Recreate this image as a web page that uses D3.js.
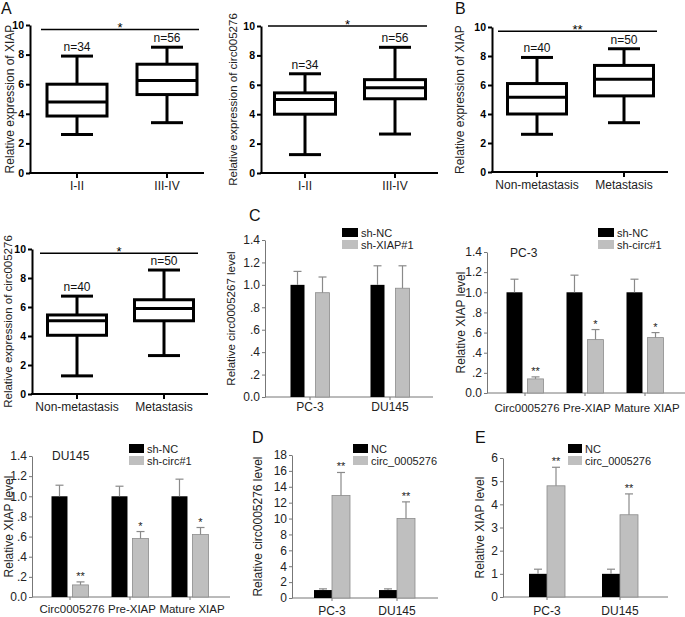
<!DOCTYPE html>
<html><head><meta charset="utf-8">
<script src="https://cdn.jsdelivr.net/npm/d3@7/dist/d3.min.js"></script>
<style>
body{margin:0;background:#fff;}
svg{display:block;font-family:"Liberation Sans",Arial,sans-serif;}
</style></head>
<body><svg id="c" width="685" height="617"></svg>
<script>
// ---------- DATA ----------
const stageCats = ["I-II", "III-IV"];
const metCats = ["Non-metastasis", "Metastasis"];
const stageN = ["n=34", "n=56"];
const metN = ["n=40", "n=50"];
const boxTicks = [0, 2, 4, 6, 8, 10];
// [min, q1, median, q3, max]
const xiapStage = [[2.6, 3.85, 4.8, 6.0, 7.9], [3.4, 5.3, 6.25, 7.35, 8.5]];
const circStage = [[1.25, 4.0, 5.0, 5.45, 6.75], [2.65, 5.05, 5.8, 6.35, 8.55]];
const xiapMet = [[2.6, 4.0, 5.15, 6.1, 7.9], [3.4, 5.25, 6.4, 7.35, 8.5]];
const circMet = [[1.25, 4.05, 5.05, 5.45, 6.75], [2.65, 5.05, 5.9, 6.5, 8.55]];

const cellLines = ["PC-3", "DU145"];
const rnaTargets = ["Circ0005276", "Pre-XIAP", "Mature XIAP"];
const seriesShXiap = ["sh-NC", "sh-XIAP#1"];
const seriesShCirc = ["sh-NC", "sh-circ#1"];
const seriesOE = ["NC", "circ_0005276"];

const c1Ctrl = [1.0, 1.0], c1CtrlErr = [0.12, 0.17];
const c1Trt = [0.93, 0.97], c1TrtErr = [0.14, 0.20];
const c2Ctrl = [1.0, 1.0, 1.0], c2CtrlErr = [0.13, 0.17, 0.13];
const c2Trt = [0.14, 0.53, 0.55], c2TrtErr = [0.02, 0.10, 0.05];
const c2Stars = ["**", "*", "*"];
const c3Ctrl = [1.0, 1.0, 1.0], c3CtrlErr = [0.11, 0.10, 0.17];
const c3Trt = [0.12, 0.58, 0.62], c3TrtErr = [0.03, 0.07, 0.07];
const c3Stars = ["**", "*", "*"];
const dCtrl = [1.0, 1.0], dCtrlErr = [0.15, 0.15];
const dTrt = [12.9, 10.0], dTrtErr = [2.9, 2.1];
const eCtrl = [1.0, 1.0], eCtrlErr = [0.2, 0.2];
const eTrt = [4.8, 3.55], eTrtErr = [0.8, 0.9];
const oeStars = ["**", "**"];

const fracTicks = [0, 0.2, 0.4, 0.6, 0.8, 1.0, 1.2, 1.4];
const fracTickLabels = ["0.0", ".2", ".4", ".6", ".8", "1.0", "1.2", "1.4"];
const dTicks = [0, 2, 4, 6, 8, 10, 12, 14, 16, 18];
const eTicks = [0, 1, 2, 3, 4, 5, 6];

// ---------- DRAW ----------
const svg = d3.select("#c");
const FONT = '"Liberation Sans",Arial,sans-serif';

function panelLetter(t, x, y) {
  svg.append("text").attr("x", x).attr("y", y).attr("font-size", 16).attr("fill", "#111").text(t);
}

function boxPanel(o) {
  const g = svg.append("g");
  const y = d3.scaleLinear().domain([0, 10]).range([o.y0, o.yTop]);
  const x = d3.scalePoint().domain(o.cats).range(o.centers);
  const ya = g.append("g").attr("transform", `translate(${o.ax},0)`)
    .call(d3.axisLeft(y).tickValues(boxTicks).tickSize(4).tickSizeOuter(0).tickPadding(2));
  ya.selectAll("path,line").attr("stroke", "#000").attr("stroke-width", 2);
  ya.selectAll("text").attr("font-size", 10.5).attr("font-weight", "bold").attr("font-family", FONT).attr("fill", "#000");
  g.append("line").attr("x1", o.ax - 1).attr("x2", o.xEnd).attr("y1", o.y0).attr("y2", o.y0)
    .attr("stroke", "#000").attr("stroke-width", 2);
  o.cats.forEach((c, i) => {
    const cx = x(c), d = o.data[i];
    g.append("line").attr("x1", cx).attr("x2", cx).attr("y1", o.y0).attr("y2", o.y0 + 5).attr("stroke", "#000").attr("stroke-width", 2);
    g.append("text").attr("x", cx).attr("y", o.xlabY).attr("text-anchor", "middle").attr("font-size", o.xFont).attr("fill", "#222").text(c);
    const s = {stroke: "#000", "stroke-width": 3, fill: "none"};
    const L = (x1, y1, x2, y2) => { const l = g.append("line").attr("x1", x1).attr("y1", y1).attr("x2", x2).attr("y2", y2); for (const k in s) l.attr(k, s[k]); };
    L(cx, y(d[0]), cx, y(d[1]));
    L(cx, y(d[3]), cx, y(d[4]));
    L(cx - o.capW / 2, y(d[0]), cx + o.capW / 2, y(d[0]));
    L(cx - o.capW / 2, y(d[4]), cx + o.capW / 2, y(d[4]));
    g.append("rect").attr("x", cx - o.boxW / 2).attr("y", y(d[3])).attr("width", o.boxW).attr("height", y(d[1]) - y(d[3]))
      .attr("fill", "none").attr("stroke", "#000").attr("stroke-width", 3);
    L(cx - o.boxW / 2, y(d[2]), cx + o.boxW / 2, y(d[2]));
    g.append("text").attr("x", cx).attr("y", y(d[4]) - 5).attr("text-anchor", "middle").attr("font-size", 12).attr("fill", "#111").text(o.n[i]);
  });
  g.append("line").attr("x1", o.sigX[0]).attr("x2", o.sigX[1]).attr("y1", y(o.sigV)).attr("y2", y(o.sigV)).attr("stroke", "#000").attr("stroke-width", 1.5);
  g.append("text").attr("x", (o.sigX[0] + o.sigX[1]) / 2).attr("y", y(o.sigV) + 3).attr("text-anchor", "middle").attr("font-size", 13).attr("fill", "#000").text(o.sig);
  g.append("text").attr("transform", `translate(${o.ylabX},${(o.y0 + o.yTop) / 2}) rotate(-90)`).attr("dy", "0.35em")
    .attr("text-anchor", "middle").attr("font-size", o.ylabFont).attr("fill", "#222").text(o.ylab);
}

function barPanel(o) {
  const g = svg.append("g");
  const y = d3.scaleLinear().domain([0, o.ymax]).range([o.y0, o.yTop]);
  const x = d3.scalePoint().domain(o.groups).range(o.centers);
  const inner = d3.scaleBand().domain(o.series).range([-o.half, o.half]).paddingInner(o.pad);
  const ya = g.append("g").attr("transform", `translate(${o.ax},0)`)
    .call(d3.axisLeft(y).tickValues(o.ticks).tickFormat((v, i) => o.tickLabels[i]).tickSize(3).tickSizeOuter(0).tickPadding(2));
  ya.selectAll("path,line").attr("stroke", "#777").attr("stroke-width", 1);
  ya.selectAll("text").attr("font-size", 12).attr("font-family", FONT).attr("fill", "#222");
  g.append("line").attr("x1", o.ax).attr("x2", o.xEnd).attr("y1", o.y0).attr("y2", o.y0).attr("stroke", "#777").attr("stroke-width", 1);
  const vals = [o.ctrl, o.trt], errs = [o.ctrlErr, o.trtErr], fills = ["#000", "#bfbfbf"], strokes = ["#000", "#8c8c8c"];
  o.groups.forEach((gr, i) => {
    const cx = x(gr);
    g.append("line").attr("x1", cx).attr("x2", cx).attr("y1", o.y0).attr("y2", o.y0 + 3).attr("stroke", "#777");
    g.append("text").attr("x", cx + (o.labShift || 0)).attr("y", o.xlabY).attr("text-anchor", "middle").attr("font-size", o.xFont).attr("fill", "#222").text(gr);
    o.series.forEach((s, k) => {
      const v = vals[k][i], e = errs[k][i];
      const bx = cx + inner(s), bw = inner.bandwidth();
      g.append("rect").attr("x", bx).attr("y", y(v)).attr("width", bw).attr("height", o.y0 - y(v))
        .attr("fill", fills[k]).attr("stroke", strokes[k]).attr("stroke-width", k ? 0.8 : 0);
      const mx = bx + bw / 2;
      g.append("line").attr("x1", mx).attr("x2", mx).attr("y1", y(v)).attr("y2", y(v + e)).attr("stroke", "#8a8a8a").attr("stroke-width", 1.2);
      g.append("line").attr("x1", mx - 4).attr("x2", mx + 4).attr("y1", y(v + e)).attr("y2", y(v + e)).attr("stroke", "#8a8a8a").attr("stroke-width", 1.2);
      if (k === 1 && o.stars) {
        g.append("text").attr("x", mx).attr("y", y(v + e) - 2).attr("text-anchor", "middle").attr("font-size", 11).attr("fill", "#222").text(o.stars[i]);
      }
    });
  });
  o.series.forEach((s, k) => {
    g.append("rect").attr("x", o.legX).attr("y", o.legY + k * 12).attr("width", o.legW).attr("height", 9).attr("fill", fills[k]);
    g.append("text").attr("x", o.legX + o.legW + 3).attr("y", o.legY + k * 12 + 8.5).attr("font-size", 11).attr("fill", "#222").text(s);
  });
  if (o.title) g.append("text").attr("x", o.title[1]).attr("y", o.title[2]).attr("font-size", 12).attr("fill", "#222").text(o.title[0]);
  g.append("text").attr("transform", `translate(${o.ylabX},${(o.y0 + o.yTop) / 2}) rotate(-90)`).attr("dy", "0.35em")
    .attr("text-anchor", "middle").attr("font-size", o.ylabFont).attr("fill", "#222").text(o.ylab);
}

// Box plots
boxPanel({ax: 30, y0: 173, yTop: 25, xEnd: 204, centers: [77, 167], cats: stageCats, data: xiapStage, n: stageN,
  boxW: 60, capW: 32, sigX: [41, 199], sigV: 9.7, sig: "*", ylab: "Relative expression of XIAP", ylabX: 10, ylabFont: 12, xlabY: 190, xFont: 12});
boxPanel({ax: 261, y0: 173, yTop: 26, xEnd: 438, centers: [305, 395], cats: stageCats, data: circStage, n: stageN,
  boxW: 61, capW: 32, sigX: [268, 427], sigV: 10, sig: "*", ylab: "Relative expression of circ005276", ylabX: 233, ylabFont: 11.5, xlabY: 190, xFont: 12});
boxPanel({ax: 492, y0: 172, yTop: 27, xEnd: 668, centers: [537, 624], cats: metCats, data: xiapMet, n: metN,
  boxW: 59, capW: 32, sigX: [498, 657], sigV: 9.7, sig: "**", ylab: "Relative expression of XIAP", ylabX: 460, ylabFont: 12, xlabY: 189, xFont: 12});
boxPanel({ax: 32, y0: 394, yTop: 249, xEnd: 208, centers: [77, 164], cats: metCats, data: circMet, n: metN,
  boxW: 59, capW: 32, sigX: [40, 198], sigV: 9.7, sig: "*", ylab: "Relative expression of circ005276", ylabX: 8, ylabFont: 11.5, xlabY: 411, xFont: 12});

// Bar charts
barPanel({ax: 265, y0: 397, yTop: 240, ymax: 1.4, ticks: fracTicks, tickLabels: fracTickLabels, xEnd: 433,
  groups: cellLines, centers: [310, 390], series: seriesShXiap, half: 19.5, pad: 0.44,
  ctrl: c1Ctrl, ctrlErr: c1CtrlErr, trt: c1Trt, trtErr: c1TrtErr,
  legX: 342, legY: 228, legW: 16, ylab: "Relative circ0005267 level", ylabX: 231, ylabFont: 11.5, xlabY: 411, xFont: 12});
barPanel({ax: 487, y0: 393, yTop: 252, ymax: 1.4, ticks: fracTicks, tickLabels: fracTickLabels, xEnd: 685,
  groups: rnaTargets, centers: [525, 645], series: seriesShCirc, half: 18.5, pad: 0.24,
  ctrl: c2Ctrl, ctrlErr: c2CtrlErr, trt: c2Trt, trtErr: c2TrtErr, stars: c2Stars,
  legX: 598, legY: 228, legW: 16, title: ["PC-3", 510, 257], ylab: "Relative XIAP level", ylabX: 461, ylabFont: 12, xlabY: 412, xFont: 11.5, labShift: 2});
barPanel({ax: 32, y0: 597, yTop: 456, ymax: 1.4, ticks: fracTicks, tickLabels: fracTickLabels, xEnd: 230,
  groups: rnaTargets, centers: [70, 190], series: seriesShCirc, half: 18.5, pad: 0.24,
  ctrl: c3Ctrl, ctrlErr: c3CtrlErr, trt: c3Trt, trtErr: c3TrtErr, stars: c3Stars,
  legX: 129, legY: 444, legW: 15, title: ["DU145", 52, 460], ylab: "Relative XIAP level", ylabX: 9, ylabFont: 12, xlabY: 613, xFont: 11.5, labShift: 2});
barPanel({ax: 292, y0: 598, yTop: 455, ymax: 18, ticks: dTicks, tickLabels: dTicks.map(String), xEnd: 438,
  groups: cellLines, centers: [332, 397], series: seriesOE, half: 18, pad: 0,
  ctrl: dCtrl, ctrlErr: dCtrlErr, trt: dTrt, trtErr: dTrtErr, stars: oeStars,
  legX: 353, legY: 444, legW: 15, ylab: "Relative circ0005276 level", ylabX: 258, ylabFont: 12, xlabY: 615, xFont: 12});
barPanel({ax: 503, y0: 597, yTop: 458, ymax: 6, ticks: eTicks, tickLabels: eTicks.map(String), xEnd: 668,
  groups: cellLines, centers: [547, 620], series: seriesOE, half: 18, pad: 0,
  ctrl: eCtrl, ctrlErr: eCtrlErr, trt: eTrt, trtErr: eTrtErr, stars: oeStars,
  legX: 568, legY: 444, legW: 14, ylab: "Relative XIAP level", ylabX: 480, ylabFont: 12, xlabY: 615, xFont: 12});

panelLetter("A", 1, 14);
panelLetter("B", 455, 14);
panelLetter("C", 249, 221);
panelLetter("D", 252, 443);
panelLetter("E", 475, 443);
</script></body></html>
